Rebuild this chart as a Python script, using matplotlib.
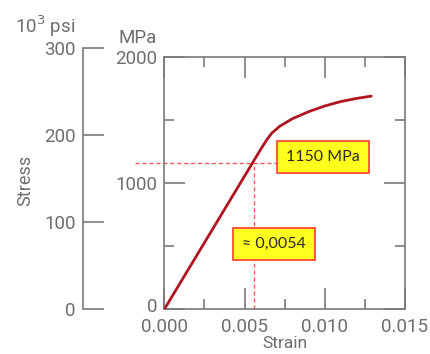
import matplotlib
matplotlib.use("Agg")
import matplotlib.pyplot as plt
from matplotlib.ticker import MultipleLocator, FixedLocator, FixedFormatter, NullFormatter

# ---- data ----
strain = [0.0, 0.0060, 0.0064, 0.0067, 0.0072, 0.0080, 0.0090, 0.0100, 0.0110, 0.0120, 0.0129]
stress_mpa = [0, 1265, 1345, 1395, 1450, 1510, 1565, 1610, 1645, 1670, 1688]
yield_stress = 1160
yield_strain = 0.0056
label_stress = "1150 MPa"
label_strain = "≈ 0,0054"
x_ticks = [0.000, 0.005, 0.010, 0.015]
x_ticklabels = ["0.000", "0.005", "0.010", "0.015"]
mpa_ticks = [0, 1000, 2000]
mpa_ticklabels = ["", "1000", "2000"]
ksi_ticks = [0, 100, 200, 300]

W, H = 431, 354
GREY = "#7a7a7a"
TXT = "#6e6e6e"
FONT = "Roboto"
plt.rcParams["font.family"] = [FONT, "DejaVu Sans"]

fig = plt.figure(figsize=(W / 100, H / 100), dpi=100)

# main axes (pixel geometry)
L, R, T, B = 164.3, 405.0, 56.7, 309.3
ax = fig.add_axes([L / W, (H - B) / H, (R - L) / W, (B - T) / H])
ax.set_xlim(0, 0.015)
ax.set_ylim(0, 2000)

ax.plot(strain, stress_mpa, color="#b0161f", lw=2.0, solid_capstyle="round", zorder=3)

for s in ax.spines.values():
    s.set_color(GREY)
    s.set_linewidth(1.2)

ax.xaxis.set_major_locator(FixedLocator(x_ticks))
ax.xaxis.set_minor_locator(MultipleLocator(0.0025))
ax.xaxis.set_major_formatter(FixedFormatter(x_ticklabels))
ax.yaxis.set_major_locator(FixedLocator(mpa_ticks))
ax.yaxis.set_major_formatter(FixedFormatter(mpa_ticklabels))
ax.yaxis.set_minor_locator(MultipleLocator(500))
ax.yaxis.set_minor_formatter(NullFormatter())
ax.tick_params(which="both", direction="in", top=True, right=True, color=GREY,
               width=1.2, labelcolor=TXT, labelsize=13.5)
ax.tick_params(which="major", length=15)
ax.tick_params(which="minor", length=7)
ax.tick_params(axis="x", which="major", pad=6)
ax.tick_params(axis="y", which="major", pad=5)
ax.set_xlabel("Strain", color=TXT, fontsize=12.5, labelpad=0)

# the "0" of the MPa scale, nudged just above the strain labels
ax.annotate("0", xy=(0, 0), xytext=(-5, 2), textcoords="offset points",
            ha="right", va="center", color=TXT, fontsize=13.5)

# dashed guide lines
ax.plot([-0.0018, 0.0071], [yield_stress, yield_stress], color="#ff5a5a", lw=1.0,
        ls=(0, (3, 2)), clip_on=False, zorder=2)
ax.plot([yield_strain, yield_strain], [0, yield_stress], color="#ff5a5a", lw=1.0,
        ls=(0, (3, 2)), clip_on=False, zorder=2)

box = dict(boxstyle="square,pad=0.55", fc="#ffff1e", ec="#ff4a3a", lw=1.3)
ax.text(0.00989, 1206, label_stress, ha="center", va="center", fontsize=11.5,
        color="#2b2b22", family=["Lato", "DejaVu Sans"], bbox=box, zorder=5)
ax.text(0.00684, 517, label_strain, ha="center", va="center", fontsize=11.5,
        color="#2b2b22", family=["Lato", "DejaVu Sans"], bbox=box, zorder=5)

# secondary ksi axis
ksi_top_mpa = 300 * 6.89476
ph = (B - T) * ksi_top_mpa / 2000
PX = 82.7
axp = fig.add_axes([PX / W, (H - B) / H, 0.001, ph / H])
axp.set_ylim(0, 300)
axp.patch.set_visible(False)
for k in ["top", "right", "bottom"]:
    axp.spines[k].set_visible(False)
axp.spines["left"].set_color(GREY)
axp.spines["left"].set_linewidth(1.2)
axp.set_xticks([])
axp.yaxis.set_major_locator(FixedLocator(ksi_ticks))
axp.tick_params(axis="y", direction="in", length=15, width=1.2, color=GREY,
                labelcolor=TXT, labelsize=13.5, pad=5)

fig.text(75 / W, (H - 33) / H, r"10$^3$ psi", ha="right", va="baseline",
         color=TXT, fontsize=13.5)
fig.text(157 / W, (H - 43) / H, "MPa", ha="right", va="baseline",
         color=TXT, fontsize=13.5)
fig.text(25 / W, (H - 180) / H, "Stress", ha="center", va="center",
         rotation=90, color=TXT, fontsize=13)

fig.savefig("out.png", dpi=100)
